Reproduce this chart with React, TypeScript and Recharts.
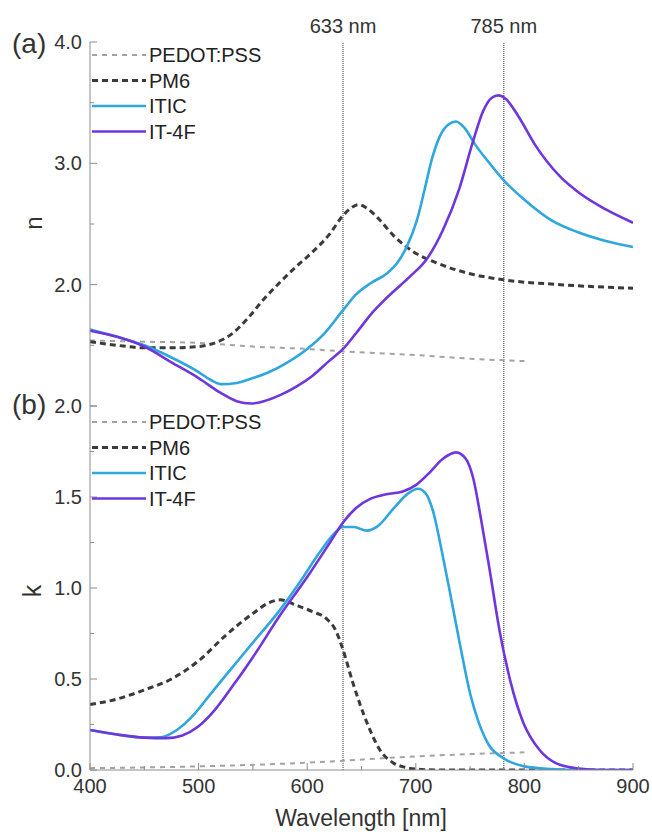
import React from 'react';
import { LineChart, Line, XAxis, YAxis, ReferenceLine } from 'recharts';

const FONT = '"Liberation Sans", Arial, Helvetica, sans-serif';
const AXIS = '#8c8c8c';
const TEXT = '#333';

// wavelength axis
const wlTicks = [400, 450, 500, 550, 600, 650, 700, 750, 800, 850, 900];
const wlLabels = [400, 500, 600, 700, 800, 900];

// n panel axis
const nTicks = [1, 1.5, 2, 2.5, 3, 3.5, 4];
const nLabels = [2, 3, 4];

// k panel axis
const kTicks = [0, 0.25, 0.5, 0.75, 1, 1.25, 1.5, 1.75, 2];
const kLabels = [0, 0.5, 1, 1.5, 2];

// laser lines (nm)
const laserX = [633, 781];
const laserText = ['633 nm', '785 nm'];

// refractive index n: [wavelength, value]
const nPedot: [number, number][] = [
  [400, 1.54], [450, 1.53], [500, 1.52], [550, 1.49], [600, 1.47], [633, 1.45],
  [700, 1.42], [750, 1.39], [800, 1.37],
];
const nPM6: [number, number][] = [
  [400, 1.53], [425, 1.5], [450, 1.48], [475, 1.48], [500, 1.49], [515, 1.52],
  [530, 1.59], [545, 1.72], [560, 1.88], [575, 2.02], [590, 2.15], [605, 2.27],
  [620, 2.41], [633, 2.57], [640, 2.63], [647, 2.66], [655, 2.63], [665, 2.55],
  [680, 2.4], [698, 2.27], [719, 2.18], [750, 2.09], [781, 2.04], [833, 2.0],
  [900, 1.97],
];
const nITIC: [number, number][] = [
  [400, 1.63], [425, 1.57], [450, 1.5], [475, 1.4], [500, 1.28], [512, 1.21],
  [521, 1.18], [535, 1.19], [550, 1.23], [565, 1.28], [580, 1.35], [600, 1.47],
  [615, 1.59], [633, 1.79], [645, 1.92], [658, 2.01], [673, 2.09], [683, 2.18],
  [692, 2.32], [701, 2.53], [708, 2.78], [715, 3.04], [722, 3.22], [730, 3.32],
  [737, 3.345], [745, 3.29], [755, 3.15], [768, 3.0], [781, 2.86], [800, 2.7],
  [825, 2.53], [850, 2.43], [875, 2.36], [900, 2.31],
];
const nIT4F: [number, number][] = [
  [400, 1.62], [425, 1.57], [450, 1.49], [475, 1.36], [500, 1.23], [520, 1.11],
  [535, 1.04], [548, 1.02], [560, 1.04], [575, 1.09], [590, 1.16], [605, 1.25],
  [620, 1.37], [633, 1.47], [645, 1.6], [660, 1.77], [673, 1.89], [695, 2.07],
  [710, 2.21], [725, 2.45], [740, 2.79], [752, 3.16], [762, 3.43], [770, 3.54],
  [776, 3.56], [783, 3.53], [795, 3.38], [810, 3.15], [833, 2.89], [850, 2.76],
  [875, 2.62], [900, 2.51],
];

// extinction coefficient k: [wavelength, value]
const kPedot: [number, number][] = [
  [400, 0.01], [500, 0.02], [600, 0.04], [700, 0.075], [800, 0.097],
];
const kPM6: [number, number][] = [
  [400, 0.36], [425, 0.39], [450, 0.44], [475, 0.5], [500, 0.6], [525, 0.74],
  [550, 0.86], [565, 0.92], [575, 0.935], [590, 0.905], [605, 0.87], [618, 0.83],
  [626, 0.77], [633, 0.66], [642, 0.48], [655, 0.26], [667, 0.11], [679, 0.04],
  [690, 0.015], [705, 0.003], [720, 0.0], [900, 0.0],
];
const kITIC: [number, number][] = [
  [400, 0.22], [425, 0.195], [450, 0.178], [465, 0.18], [480, 0.22], [495, 0.3],
  [510, 0.41], [525, 0.52], [550, 0.7], [575, 0.88], [593, 1.03], [612, 1.2],
  [625, 1.3], [633, 1.335], [643, 1.335], [655, 1.315], [665, 1.34], [680, 1.44],
  [693, 1.52], [702, 1.545], [709, 1.52], [716, 1.42], [724, 1.2], [731, 0.99],
  [741, 0.68], [750, 0.42], [758, 0.26], [767, 0.14], [781, 0.064], [800, 0.02],
  [825, 0.005], [850, 0.0], [900, 0.0],
];
const kIT4F: [number, number][] = [
  [400, 0.22], [425, 0.195], [450, 0.178], [470, 0.175], [485, 0.19], [500, 0.24],
  [515, 0.33], [530, 0.45], [550, 0.62], [575, 0.85], [600, 1.06], [621, 1.25],
  [633, 1.36], [645, 1.44], [658, 1.49], [673, 1.515], [688, 1.53], [700, 1.565],
  [712, 1.63], [725, 1.71], [737, 1.745], [746, 1.71], [753, 1.6], [760, 1.38],
  [768, 1.1], [777, 0.77], [787, 0.49], [799, 0.26], [814, 0.11], [830, 0.035],
  [850, 0.008], [870, 0.0], [900, 0.0],
];

const seriesNames = ['PEDOT:PSS', 'PM6', 'ITIC', 'IT-4F'];
const seriesColors = ['#a3a3a3', '#3a3a3a', '#2ea6de', '#6e36dc'];
const seriesWidths = [2, 3, 2.6, 2.6];
const seriesDash = ['5 5', '6 4', undefined, undefined];

const pts = (arr: [number, number][]) => arr.map(([x, v]) => ({ x, v }));

const XTick = (props: any) => {
  const { x, y, payload, side, showLabel } = props;
  const major = wlLabels.includes(payload.value);
  const len = major ? 7 : 4;
  const dir = side === 'top' ? 1 : -1;
  return (
    <g>
      <line x1={x} y1={y} x2={x} y2={y + dir * len} stroke={AXIS} strokeWidth={1} />
      {showLabel && major && (
        <text x={x} y={y + 23} textAnchor="middle" fill={TEXT} fontSize={20} fontFamily={FONT}>
          {payload.value}
        </text>
      )}
    </g>
  );
};

const YTick = (props: any) => {
  const { x, y, payload, side, labels } = props;
  const major = labels.includes(payload.value);
  const isHalf = Math.abs(payload.value * 2 - Math.round(payload.value * 2)) < 1e-6;
  const len = (labels === nLabels ? Number.isInteger(payload.value) : isHalf) ? 7 : 4;
  const dir = side === 'right' ? -1 : 1;
  return (
    <g>
      <line x1={x} y1={y} x2={x + dir * len} y2={y} stroke={AXIS} strokeWidth={1} />
      {side === 'left' && major && (
        <text x={x - 8} y={y + 7} textAnchor="end" fill={TEXT} fontSize={20} fontFamily={FONT}>
          {payload.value.toFixed(1)}
        </text>
      )}
    </g>
  );
};

function Axes({ yDomain, yTicks, yLabels, bottomLabels, bottomHeight }: any) {
  return [
    <XAxis key="xb" xAxisId={0} dataKey="x" type="number" domain={[400, 900]} ticks={wlTicks}
      interval={0} height={bottomHeight} tickSize={0} tickMargin={0} tickLine={false}
      axisLine={{ stroke: AXIS }} allowDataOverflow
      tick={<XTick side="bottom" showLabel={bottomLabels} />} />,
    <XAxis key="xt" xAxisId="top" orientation="top" dataKey="x" type="number" domain={[400, 900]}
      ticks={wlTicks} interval={0} height={0} tickSize={0} tickMargin={0} tickLine={false}
      axisLine={{ stroke: AXIS }} tick={<XTick side="top" showLabel={false} />} />,
    <YAxis key="yl" yAxisId={0} type="number" domain={yDomain} ticks={yTicks} interval={0}
      width={50} tickSize={0} tickMargin={0} tickLine={false} axisLine={{ stroke: AXIS }}
      allowDataOverflow tick={<YTick side="left" labels={yLabels} />} />,
    <YAxis key="yr" yAxisId="right" orientation="right" type="number" domain={yDomain} ticks={yTicks}
      interval={0} width={0} tickSize={0} tickMargin={0} tickLine={false} axisLine={{ stroke: AXIS }}
      tick={<YTick side="right" labels={yLabels} />} />,
  ];
}

function seriesLines(sets: [number, number][][]) {
  return sets.map((s, i) => (
    <Line key={seriesNames[i]} data={pts(s)} dataKey="v" type="monotone" dot={false}
      stroke={seriesColors[i]} strokeWidth={seriesWidths[i]} strokeDasharray={seriesDash[i]}
      isAnimationActive={false} />
  ));
}

function LegendBox({ top }: { top: number }) {
  return (
    <svg width={200} height={110} style={{ position: 'absolute', left: 91, top }}>
      {seriesNames.map((name, i) => (
        <g key={name}>
          <line x1={1} x2={55} y1={10 + i * 25.5} y2={10 + i * 25.5} stroke={seriesColors[i]}
            strokeWidth={seriesWidths[i]} strokeDasharray={seriesDash[i]} />
          <text x={58} y={17 + i * 25.5} fontSize={20} fontFamily={FONT} fill="#222">{name}</text>
        </g>
      ))}
    </svg>
  );
}

export default function App() {
  return (
    <div style={{ position: 'absolute', left: 0, top: 0, width: 652, height: 835, background: '#fff' }}>
      <div style={{ position: 'absolute', left: 0, top: 0 }}>
        <LineChart width={652} height={410} margin={{ top: 42, right: 19, bottom: 4, left: 40 }}>
          {Axes({ yDomain: [1, 4], yTicks: nTicks, yLabels: nLabels, bottomLabels: false, bottomHeight: 0 })}
          {laserX.map((lx, i) => (
            <ReferenceLine key={lx} x={lx} stroke="#555" strokeDasharray="1 1" strokeWidth={1.2}
              label={{ value: laserText[i], position: 'top', offset: 9, fill: TEXT, fontSize: 20, fontFamily: FONT }} />
          ))}
          {seriesLines([nPedot, nPM6, nITIC, nIT4F])}
        </LineChart>
      </div>
      <div style={{ position: 'absolute', left: 0, top: 390 }}>
        <LineChart width={652} height={445} margin={{ top: 16, right: 19, bottom: 25, left: 40 }}>
          {Axes({ yDomain: [0, 2], yTicks: kTicks, yLabels: kLabels, bottomLabels: true, bottomHeight: 40 })}
          {laserX.map((lx) => (
            <ReferenceLine key={lx} x={lx} stroke="#555" strokeDasharray="1 1" strokeWidth={1.2} />
          ))}
          {seriesLines([kPedot, kPM6, kITIC, kIT4F])}
        </LineChart>
      </div>
      <LegendBox top={45} />
      <LegendBox top={412} />
      <svg width={652} height={835} style={{ position: 'absolute', left: 0, top: 0, pointerEvents: 'none' }}>
        <text x={12} y={53} fontSize={28} fontFamily={FONT} fill={TEXT}>(a)</text>
        <text x={12} y={414} fontSize={28} fontFamily={FONT} fill={TEXT}>(b)</text>
        <text x={42} y={223} fontSize={24} fontFamily={FONT} fill={TEXT} textAnchor="middle"
          transform="rotate(-90 42 223)">n</text>
        <text x={41} y={591} fontSize={25} fontFamily={FONT} fill={TEXT} textAnchor="middle"
          transform="rotate(-90 41 591)">k</text>
        <text x={361} y={826} fontSize={23} fontFamily={FONT} fill={TEXT} textAnchor="middle">Wavelength [nm]</text>
      </svg>
    </div>
  );
}
